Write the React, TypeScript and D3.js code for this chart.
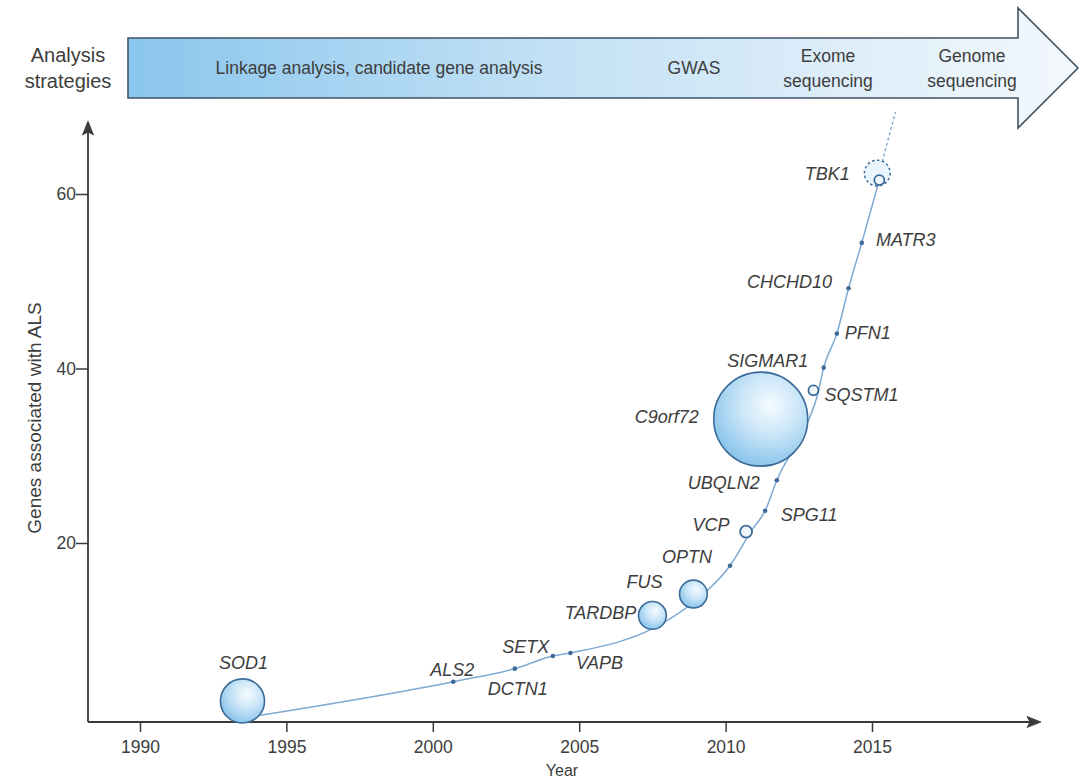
import * as d3 from 'd3';
import React, { useEffect, useRef } from 'react';

const W = 1084;
const H = 780;

// genes, in the order they were drawn along the curve
const genes = ["SOD1", "ALS2", "DCTN1", "SETX", "VAPB", "TARDBP", "FUS", "OPTN", "VCP", "SPG11",
  "UBQLN2", "C9orf72", "SQSTM1", "SIGMAR1", "PFN1", "CHCHD10", "MATR3", "TBK1"];
const geneYear = [1993.5, 2000.7, 2002.8, 2004.1, 2004.7, 2007.5, 2008.9, 2010.15, 2010.7, 2011.35,
  2011.75, 2011.2, 2013.0, 2013.35, 2013.8, 2014.2, 2014.65, 2015.25];
const geneCount = [1.9, 4.1, 5.6, 7.05, 7.4, 11.7, 14.15, 17.4, 21.3, 23.7,
  27.2, 34.2, 37.5, 40.1, 44.0, 49.2, 54.4, 61.6];
// relative share of cases (bubble area)
const geneShare = [8.8, 0.09, 0.09, 0.09, 0.09, 3.5, 3.5, 0.09, 0.65, 0.09,
  0.09, 40, 0.45, 0.09, 0.09, 0.09, 0.09, 0.45];

// the trend line
const trendYear = [1994.0, 2000.7, 2002.8, 2004.1, 2004.7, 2008.0, 2009.3, 2010.15, 2010.9, 2011.35,
  2011.75, 2012.8, 2013.15, 2013.35, 2013.8, 2014.2, 2014.65, 2015.25];
const trendCount = [0.2, 4.1, 5.6, 7.05, 7.4, 11.1, 14.3, 17.4, 21.5, 23.7,
  27.2, 33.8, 37.1, 40.1, 44.0, 49.2, 54.4, 61.6];
const projYear = [2015.35, 2015.8];
const projCount = [63.7, 69.4];
const tbk1Range = { year: 2015.18, count: 62.4, share: 3.0 };

const xTicks = [1990, 1995, 2000, 2005, 2010, 2015];
const yTicks = [20, 40, 60];

const strategies = [
  { lines: ["Linkage analysis, candidate gene analysis"], x: 379 },
  { lines: ["GWAS"], x: 694 },
  { lines: ["Exome", "sequencing"], x: 828 },
  { lines: ["Genome", "sequencing"], x: 972 },
];

// label placement: dx, dy from marker, anchor
const labelPos: Record<string, [number, number, string]> = {
  SOD1: [1, -38, 'middle'], ALS2: [-1, -12, 'middle'], DCTN1: [3, 20, 'middle'],
  SETX: [-27, -9, 'middle'], VAPB: [29, 10, 'middle'], TARDBP: [-16, -2, 'end'],
  FUS: [-49, -12, 'middle'], OPTN: [-43, -9, 'middle'], VCP: [-35, -7, 'middle'],
  SPG11: [44, 4, 'middle'], UBQLN2: [-53, 3, 'middle'], C9orf72: [-94, -2, 'middle'],
  SIGMAR1: [-56, -7, 'middle'], SQSTM1: [48, 5, 'middle'], PFN1: [31, -1, 'middle'],
  CHCHD10: [-59, -6, 'middle'], MATR3: [44, -3, 'middle'], TBK1: [-52, -6, 'middle'],
};

const FONT = '"Liberation Sans", Arial, Helvetica, sans-serif';
const AXIS = '#3a3a3a';
const TEXT = '#3d3d3d';

export default function App() {
  const svgRef = useRef<SVGSVGElement>(null);

  useEffect(() => {
    const svg = d3.select(svgRef.current);
    svg.selectAll("*").remove();

    const x = d3.scaleLinear().domain([1990, 2015]).range([140, 872]);
    const y = d3.scaleLinear().domain([0, 60]).range([717.5, 194]);
    const r = d3.scaleSqrt().domain([0, 40]).range([0, 47]);

    const x0 = 88, y0 = 722;

    const defs = svg.append("defs");
    const arrowGrad = defs.append("linearGradient").attr("id", "arrowGrad")
      .attr("x1", "0").attr("x2", "1").attr("y1", "0").attr("y2", "0");
    arrowGrad.append("stop").attr("offset", "0").attr("stop-color", "#8ac6ed");
    arrowGrad.append("stop").attr("offset", "0.45").attr("stop-color", "#c3e1f5");
    arrowGrad.append("stop").attr("offset", "1").attr("stop-color", "#f3f8fc");

    const bub = defs.append("radialGradient").attr("id", "bubGrad")
      .attr("cx", "0.6").attr("cy", "0.35").attr("r", "0.7");
    bub.append("stop").attr("offset", "0").attr("stop-color", "#f5fbff");
    bub.append("stop").attr("offset", "0.45").attr("stop-color", "#cbe6f8");
    bub.append("stop").attr("offset", "1").attr("stop-color", "#84c1ea");

    // strategy arrow
    const ax0 = 128, ax1 = 1018, top = 38, bot = 98, mid = 68;
    svg.append("path")
      .attr("d", `M${ax0},${top} L${ax1},${top} L${ax1},8 L1078,${mid} L${ax1},128 L${ax1},${bot} L${ax0},${bot} Z`)
      .attr("fill", "url(#arrowGrad)")
      .attr("stroke", "#3f5366")
      .attr("stroke-width", 1.6)
      .attr("stroke-linejoin", "miter");

    strategies.forEach(s => {
      const t = svg.append("text")
        .attr("x", s.x)
        .attr("text-anchor", "middle")
        .attr("font-family", FONT)
        .attr("font-size", 17.5)
        .attr("fill", TEXT);
      const n = s.lines.length;
      s.lines.forEach((ln, i) => {
        t.append("tspan").attr("x", s.x)
          .attr("y", mid + 6 + (i - (n - 1) / 2) * 25)
          .text(ln);
      });
    });

    const lab = svg.append("text")
      .attr("text-anchor", "middle")
      .attr("font-family", FONT)
      .attr("font-size", 20)
      .attr("fill", TEXT);
    lab.append("tspan").attr("x", 68).attr("y", 62).text("Analysis");
    lab.append("tspan").attr("x", 68).attr("y", 88).text("strategies");

    // axes
    const xAxis = d3.axisBottom(x).tickValues(xTicks).tickSize(10).tickSizeOuter(0).tickFormat(d => `${d}`);
    const xg = svg.append("g").attr("transform", `translate(0, ${y0})`).call(xAxis);
    xg.select(".domain").remove();
    xg.selectAll("line").attr("stroke", AXIS).attr("stroke-width", 1.5);
    xg.selectAll("text").attr("font-family", FONT).attr("font-size", 17.5).attr("fill", TEXT).attr("dy", "1.05em");

    const yAxis = d3.axisLeft(y).tickValues(yTicks).tickSize(12).tickSizeOuter(0).tickFormat(d => `${d}`);
    const yg = svg.append("g").attr("transform", `translate(${x0}, 0)`).call(yAxis);
    yg.select(".domain").remove();
    yg.selectAll("line").attr("stroke", AXIS).attr("stroke-width", 1.5);
    yg.selectAll("text").attr("font-family", FONT).attr("font-size", 17.5).attr("fill", TEXT).attr("x", -12);

    svg.append("path")
      .attr("d", `M${x0},${y0} L1030,${y0} M${x0},${y0} L${x0},132`)
      .attr("stroke", AXIS).attr("stroke-width", 1.8).attr("fill", "none");
    svg.append("path")
      .attr("d", `M1041,${y0} L1027,${y0 - 5.5} L1030,${y0} L1027,${y0 + 5.5} Z M${x0},121 L${x0 - 5.5},135 L${x0},132 L${x0 + 5.5},135 Z`)
      .attr("fill", AXIS).attr("stroke", AXIS).attr("stroke-width", 0.8);

    svg.append("text")
      .attr("x", 562).attr("y", 776)
      .attr("text-anchor", "middle")
      .attr("font-family", FONT).attr("font-size", 16).attr("fill", TEXT)
      .text("Year");

    svg.append("text")
      .attr("transform", `translate(41, 418) rotate(-90)`)
      .attr("text-anchor", "middle")
      .attr("font-family", FONT).attr("font-size", 19).attr("fill", TEXT)
      .text("Genes associated with ALS");

    // trend curve
    const trend = trendYear.map((yr, i) => [yr, trendCount[i]] as [number, number]);
    const line = d3.line<[number, number]>()
      .x(d => x(d[0]))
      .y(d => y(d[1]))
      .curve(d3.curveMonotoneX);
    svg.append("path")
      .attr("d", line(trend))
      .attr("fill", "none")
      .attr("stroke", "#7ea9d3")
      .attr("stroke-width", 1.5);

    const proj = projYear.map((yr, i) => [yr, projCount[i]] as [number, number]);
    svg.append("path")
      .attr("d", d3.line<[number, number]>().x(d => x(d[0])).y(d => y(d[1]))(proj))
      .attr("fill", "none")
      .attr("stroke", "#7ea9d3")
      .attr("stroke-width", 1.4)
      .attr("stroke-dasharray", "3,2.5");

    svg.append("circle")
      .attr("cx", x(tbk1Range.year)).attr("cy", y(tbk1Range.count))
      .attr("r", r(tbk1Range.share))
      .attr("fill", "#e4f1fb")
      .attr("fill-opacity", 0.8)
      .attr("stroke", "#3d6b99")
      .attr("stroke-width", 1.5)
      .attr("stroke-dasharray", "2.5,2.5");

    // gene markers
    const data = genes.map((g, i) => ({ g, yr: geneYear[i], n: geneCount[i], s: geneShare[i] }));
    const kind = (s: number) => s >= 2 ? "bubble" : s >= 0.3 ? "ring" : "dot";

    svg.append("g")
      .selectAll("circle")
      .data(data)
      .join("circle")
      .attr("cx", d => x(d.yr))
      .attr("cy", d => y(d.n))
      .attr("r", d => kind(d.s) === "dot" ? 2.3 : r(d.s))
      .attr("fill", d => kind(d.s) === "bubble" ? "url(#bubGrad)" : kind(d.s) === "ring" ? "#eef6fc" : "#3d6b99")
      .attr("stroke", d => kind(d.s) === "dot" ? "none" : "#3b6b99")
      .attr("stroke-width", d => kind(d.s) === "bubble" ? 1.6 : 1.8);

    svg.append("g")
      .selectAll("text")
      .data(data)
      .join("text")
      .attr("x", d => x(d.yr) + labelPos[d.g][0])
      .attr("y", d => y(d.n) + labelPos[d.g][1])
      .attr("text-anchor", d => labelPos[d.g][2])
      .attr("dominant-baseline", "central")
      .attr("font-family", FONT)
      .attr("font-style", "italic")
      .attr("font-size", 18)
      .attr("fill", TEXT)
      .text(d => d.g);
  }, []);

  return (
    <svg ref={svgRef} width={W} height={H}
      style={{ position: 'absolute', left: 0, top: 0, background: '#fff' }} />
  );
}
